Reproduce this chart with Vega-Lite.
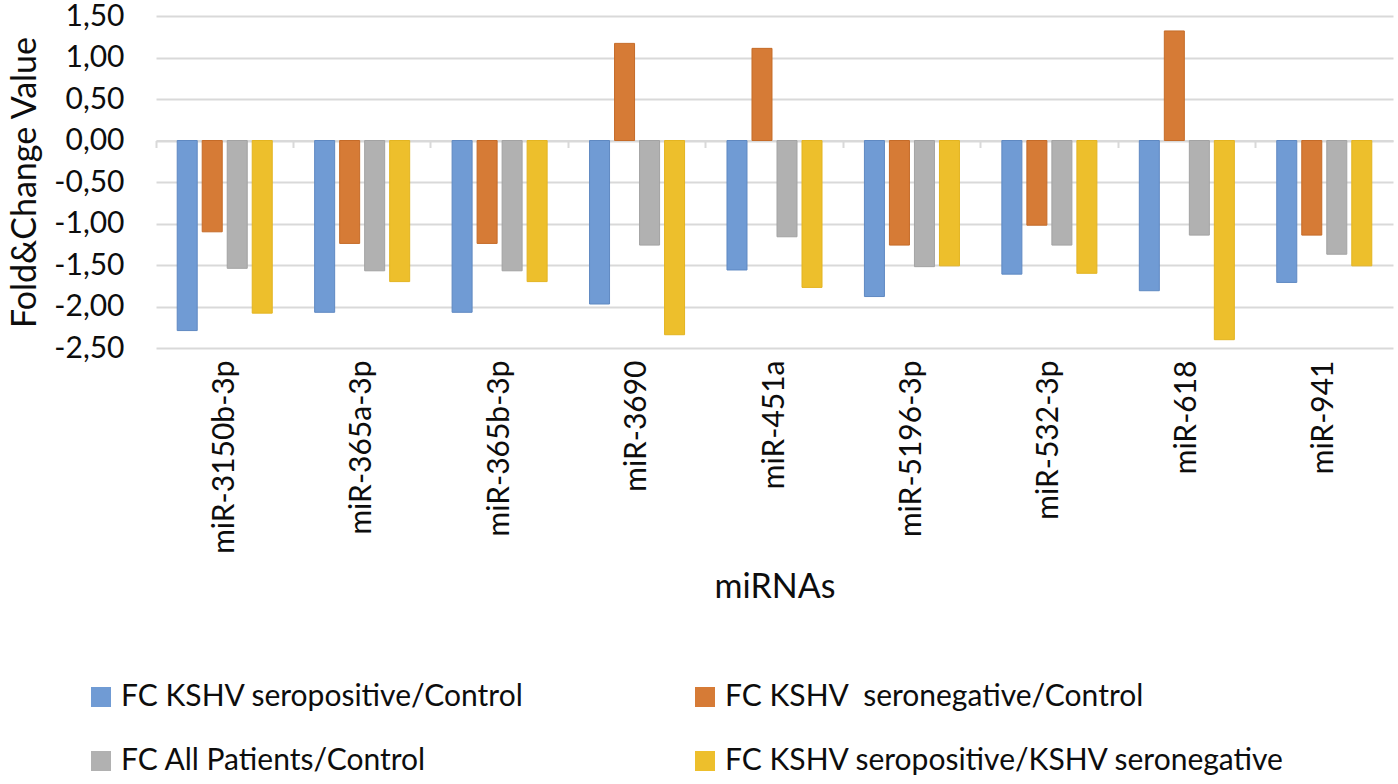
{
  "$schema": "https://vega.github.io/schema/vega-lite/v6.json",
  "width": 1237,
  "height": 332,
  "autosize": {"type": "none"},
  "padding": {"left": 156, "top": 16, "right": 5, "bottom": 436},
  "background": "white",
  "config": {"view": {"stroke": null}, "font": "Lato"},
  "data": {
    "values": [
      {"mirna": "miR-3150b-3p", "series": "FC KSHV seropositive/Control", "value": -2.29},
      {"mirna": "miR-3150b-3p", "series": "FC KSHV\u00a0 seronegative/Control", "value": -1.10},
      {"mirna": "miR-3150b-3p", "series": "FC All Patients/Control", "value": -1.54},
      {"mirna": "miR-3150b-3p", "series": "FC KSHV seropositive/KSHV seronegative", "value": -2.08},
      {"mirna": "miR-365a-3p", "series": "FC KSHV seropositive/Control", "value": -2.07},
      {"mirna": "miR-365a-3p", "series": "FC KSHV\u00a0 seronegative/Control", "value": -1.24},
      {"mirna": "miR-365a-3p", "series": "FC All Patients/Control", "value": -1.57},
      {"mirna": "miR-365a-3p", "series": "FC KSHV seropositive/KSHV seronegative", "value": -1.70},
      {"mirna": "miR-365b-3p", "series": "FC KSHV seropositive/Control", "value": -2.07},
      {"mirna": "miR-365b-3p", "series": "FC KSHV\u00a0 seronegative/Control", "value": -1.24},
      {"mirna": "miR-365b-3p", "series": "FC All Patients/Control", "value": -1.57},
      {"mirna": "miR-365b-3p", "series": "FC KSHV seropositive/KSHV seronegative", "value": -1.70},
      {"mirna": "miR-3690", "series": "FC KSHV seropositive/Control", "value": -1.97},
      {"mirna": "miR-3690", "series": "FC KSHV\u00a0 seronegative/Control", "value": 1.17},
      {"mirna": "miR-3690", "series": "FC All Patients/Control", "value": -1.26},
      {"mirna": "miR-3690", "series": "FC KSHV seropositive/KSHV seronegative", "value": -2.34},
      {"mirna": "miR-451a", "series": "FC KSHV seropositive/Control", "value": -1.56},
      {"mirna": "miR-451a", "series": "FC KSHV\u00a0 seronegative/Control", "value": 1.11},
      {"mirna": "miR-451a", "series": "FC All Patients/Control", "value": -1.16},
      {"mirna": "miR-451a", "series": "FC KSHV seropositive/KSHV seronegative", "value": -1.77},
      {"mirna": "miR-5196-3p", "series": "FC KSHV seropositive/Control", "value": -1.88},
      {"mirna": "miR-5196-3p", "series": "FC KSHV\u00a0 seronegative/Control", "value": -1.26},
      {"mirna": "miR-5196-3p", "series": "FC All Patients/Control", "value": -1.52},
      {"mirna": "miR-5196-3p", "series": "FC KSHV seropositive/KSHV seronegative", "value": -1.51},
      {"mirna": "miR-532-3p", "series": "FC KSHV seropositive/Control", "value": -1.61},
      {"mirna": "miR-532-3p", "series": "FC KSHV\u00a0 seronegative/Control", "value": -1.02},
      {"mirna": "miR-532-3p", "series": "FC All Patients/Control", "value": -1.26},
      {"mirna": "miR-532-3p", "series": "FC KSHV seropositive/KSHV seronegative", "value": -1.60},
      {"mirna": "miR-618", "series": "FC KSHV seropositive/Control", "value": -1.81},
      {"mirna": "miR-618", "series": "FC KSHV\u00a0 seronegative/Control", "value": 1.32},
      {"mirna": "miR-618", "series": "FC All Patients/Control", "value": -1.14},
      {"mirna": "miR-618", "series": "FC KSHV seropositive/KSHV seronegative", "value": -2.40},
      {"mirna": "miR-941", "series": "FC KSHV seropositive/Control", "value": -1.71},
      {"mirna": "miR-941", "series": "FC KSHV\u00a0 seronegative/Control", "value": -1.14},
      {"mirna": "miR-941", "series": "FC All Patients/Control", "value": -1.37},
      {"mirna": "miR-941", "series": "FC KSHV seropositive/KSHV seronegative", "value": -1.51}
    ]
  },
  "layer": [
    {
      "mark": {"type": "bar", "strokeWidth": 1},
      "encoding": {
        "x": {
          "field": "mirna", "type": "nominal", "sort": null,
          "scale": {"paddingInner": 0, "paddingOuter": 0},
          "axis": {
            "title": "miRNAs", "orient": "bottom", "labelAngle": -90,
            "ticks": false, "domain": false, "grid": false,
            "labelFontSize": 30, "labelPadding": 12, "labelColor": "#0d0d0d", "labelLimit": 400,
            "titleFontSize": 34, "titleFontWeight": "normal", "titlePadding": 22, "titleColor": "#0d0d0d"
          }
        },
        "xOffset": {
          "field": "series", "type": "nominal",
          "sort": ["FC KSHV seropositive/Control", "FC KSHV\u00a0 seronegative/Control", "FC All Patients/Control", "FC KSHV seropositive/KSHV seronegative"],
          "scale": {"paddingInner": 0.2, "paddingOuter": 0.848}
        },
        "y": {
          "field": "value", "type": "quantitative",
          "scale": {"domain": [-2.5, 1.5], "nice": false},
          "axis": {
            "title": "Fold&Change Value",
            "values": [-2.5, -2, -1.5, -1, -0.5, 0, 0.5, 1, 1.5],
            "labelExpr": "(datum.value < 0 ? '-' : '') + replace(format(abs(datum.value), '.2f'), '.', ',')",
            "grid": true, "gridColor": "#d9d9d9", "gridWidth": 2,
            "domain": false, "ticks": false,
            "labelFontSize": 30, "labelPadding": 32, "labelColor": "#0d0d0d",
            "titleFontSize": 34, "titleFontWeight": "normal", "titlePadding": 11, "titleColor": "#0d0d0d"
          }
        },
        "color": {
          "field": "series", "type": "nominal",
          "scale": {
            "domain": ["FC KSHV seropositive/Control", "FC KSHV\u00a0 seronegative/Control", "FC All Patients/Control", "FC KSHV seropositive/KSHV seronegative"],
            "range": ["#709BD4", "#D67B36", "#B1B1B1", "#EDBF2C"]
          },
          "legend": {
            "orient": "none", "legendX": -70, "legendY": 666, "padding": 0,
            "direction": "horizontal", "columns": 2, "title": null,
            "symbolType": "square", "symbolSize": 400, "symbolStrokeWidth": 0,
            "labelFontSize": 30, "labelColor": "#0d0d0d", "labelOffset": 5, "labelLimit": 700,
            "columnPadding": 166, "rowPadding": 34
          }
        },
        "stroke": {
          "field": "series", "type": "nominal",
          "scale": {
            "domain": ["FC KSHV seropositive/Control", "FC KSHV\u00a0 seronegative/Control", "FC All Patients/Control", "FC KSHV seropositive/KSHV seronegative"],
            "range": ["#5F89C2", "#C56B28", "#A3A3A3", "#E3B421"]
          },
          "legend": null
        }
      }
    },
    {
      "mark": {"type": "point", "opacity": 0},
      "encoding": {
        "x": {
          "field": "mirna", "type": "nominal", "sort": null,
          "axis": {
            "orient": "bottom", "offset": -207.5, "title": null, "labels": false,
            "ticks": true, "tickColor": "#d9d9d9", "tickWidth": 2, "tickSize": 7, "bandPosition": 0,
            "domain": true, "domainColor": "#d9d9d9", "domainWidth": 2, "grid": false
          }
        },
        "y": {"datum": 0}
      }
    }
  ],
  "resolve": {"axis": {"x": "independent"}}
}
